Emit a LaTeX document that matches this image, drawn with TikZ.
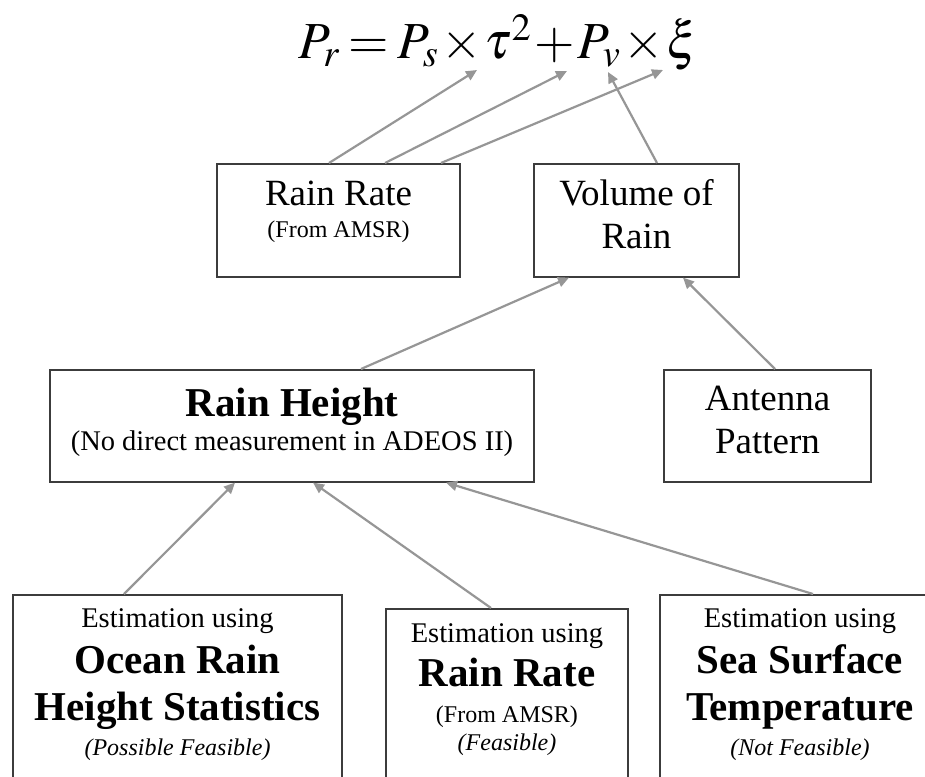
\documentclass[tikz,border=0pt]{standalone}
\usepackage{mathptmx}
\usepackage{fontspec}
\setmainfont{Liberation Serif}
\usetikzlibrary{arrows.meta}
\definecolor{arrgray}{RGB}{150,150,150}
\definecolor{boxgray}{RGB}{60,60,60}
% baselines set only by the \\[..] gaps
\newcommand{\flatlines}{\lineskiplimit=-1000pt\lineskip=0pt}
\newcommand{\ttl}{\fontsize{37}{0}\selectfont}
\newcommand{\ttb}{\fontsize{41}{0}\selectfont\bfseries}
\newcommand{\est}{\fontsize{28.5}{0}\selectfont}
\newcommand{\nt}{\fontsize{24}{0}\selectfont}
\newcommand{\padtop}[1]{\rule{0pt}{#1pt}}
\newcommand{\padbot}[1]{\rule[-#1pt]{0pt}{#1pt}}
\tikzset{
  box/.style={draw=boxgray,line width=1.6pt,fill=white,anchor=north,align=center,
    inner xsep=0pt,inner ysep=0pt,font=\flatlines\fontsize{28}{0}\selectfont},
  arr/.style={draw=arrgray,line width=2.2pt,-{Triangle[length=11pt,width=10pt]}},
}
\begin{document}
\begin{tikzpicture}[x=1pt,y=-1pt]
  \useasboundingbox (0,0) rectangle (925,776);
  % equation, and the terms the arrows point at
  \node[anchor=base west,inner sep=0pt,font=\fontsize{52}{52}\selectfont] (eq) at (298,59)
    {$\thickmuskip=3mu\medmuskip=1mu P_r=P_s\times\tau^2+P_v\times\xi$};
  \coordinate (tau) at (477,70);
  \coordinate (pv) at (567,71);
  \coordinate (vsub) at (608,72);
  \coordinate (xi) at (663,70);
  % upper row
  \node[box,minimum width=243pt] (rate) at (338.5,163)
    {\padtop{42}{\ttl Rain Rate}\\[32pt]{\nt (From AMSR)}\padbot{39}};
  \node[box,minimum width=205pt] (vol) at (636.5,163)
    {\padtop{42}{\ttl Volume of}\\[43pt]{\ttl Rain}\padbot{28}};
  % middle row
  \node[box,minimum width=484pt] (height) at (292,369)
    {\padtop{47}{\ttb Rain Height}\\[34pt]{\est (No direct measurement in ADEOS II)}\padbot{31}};
  \node[box,minimum width=207pt] (ant) at (767.5,369)
    {\padtop{41}{\ttl Antenna}\\[43pt]{\ttl Pattern}\padbot{28}};
  % lower row, cut by the page bottom
  \node[box,minimum width=329pt] (ocean) at (177.5,594)
    {\padtop{33}{\est Estimation using}\\[46pt]{\ttb Ocean Rain}\\[47pt]{\ttb Height Statistics}\\[35pt]{\nt\itshape (Possible Feasible)}\padbot{45}};
  \node[box,minimum width=242pt] (amsr) at (507,608)
    {\padtop{34}{\est Estimation using}\\[44pt]{\ttb Rain Rate}\\[36pt]{\nt (From AMSR)}\\[28pt]{\nt\itshape (Feasible)}\padbot{45}};
  \node[box,minimum width=280pt] (sst) at (800,594)
    {\padtop{33}{\est Estimation using}\\[46pt]{\ttb Sea Surface}\\[47pt]{\ttb Temperature}\\[35pt]{\nt\itshape (Not Feasible)}\padbot{45}};
  % arrows
  \draw[arr] ([xshift=-9.5pt]rate.north) -- (tau);
  \draw[arr] ([xshift=46.5pt]rate.north) -- (pv);
  \draw[arr] ([xshift=102.5pt]rate.north) -- (xi);
  \draw[arr] ([xshift=20.5pt]vol.north) -- (vsub);
  \draw[arr] ([xshift=69pt]height.north) -- ([xshift=-67.5pt]vol.south);
  \draw[arr] ([xshift=7.5pt]ant.north) -- ([xshift=46.5pt]vol.south);
  \draw[arr] ([xshift=-53.5pt]ocean.north) -- ([xshift=-57pt]height.south);
  \draw[arr] ([xshift=-16pt]amsr.north) -- ([xshift=21pt]height.south);
  \draw[arr] ([xshift=13pt]sst.north) -- ([xshift=154pt]height.south);
\end{tikzpicture}
\end{document}
